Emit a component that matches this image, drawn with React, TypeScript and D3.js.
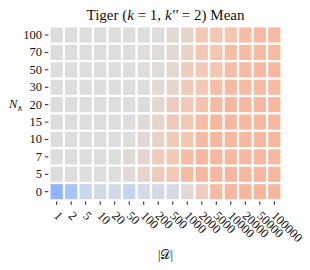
import React, { useRef, useEffect } from 'react';
import * as d3 from 'd3';

// |D| along x, N_wedge along y (top row first)
const datasetSizes = ['1', '2', '5', '10', '20', '50', '100', '200', '500', '1000', '2000', '5000', '10000', '20000', '50000', '100000'];
const nLabels = ['100', '70', '50', '30', '20', '15', '10', '7', '5', '0'];

// mean score per row, one value per |D|
const meanN100 = [0, 0, 0, 0, 0, 0, 0, 0.01, 0.04, 0.09, 0.2, 0.22, 0.23, 0.3, 0.31, 0.31];
const meanN70 = [0, 0, 0, 0, 0, 0, 0, 0.01, 0.05, 0.09, 0.22, 0.24, 0.28, 0.3, 0.31, 0.31];
const meanN50 = [0, 0, 0, 0, 0, 0, 0, 0.01, 0.06, 0.18, 0.2, 0.24, 0.29, 0.31, 0.32, 0.32];
const meanN30 = [0, 0, 0, 0, 0, 0, 0, 0.04, 0.08, 0.19, 0.22, 0.29, 0.31, 0.31, 0.31, 0.31];
const meanN20 = [0, 0, 0, 0, 0, 0, 0.01, 0.05, 0.18, 0.2, 0.26, 0.3, 0.32, 0.32, 0.32, 0.32];
const meanN15 = [0, 0, 0, 0, 0, 0, 0.04, 0.08, 0.19, 0.22, 0.29, 0.32, 0.32, 0.32, 0.32, 0.32];
const meanN10 = [0, 0, 0, 0, 0, 0, 0.05, 0.1, 0.2, 0.24, 0.3, 0.32, 0.32, 0.32, 0.32, 0.32];
const meanN7 = [0, 0, 0, 0, 0, 0.03, 0.08, 0.17, 0.21, 0.29, 0.32, 0.32, 0.32, 0.32, 0.32, 0.32];
const meanN5 = [0, 0, 0, 0, 0, 0.04, 0.1, 0.18, 0.22, 0.3, 0.33, 0.33, 0.33, 0.33, 0.33, 0.33];
const meanN0 = [-0.47, -0.34, -0.13, -0.06, -0.07, -0.17, -0.07, -0.07, -0.04, 0.03, 0.15, 0.3, 0.32, 0.32, 0.32, 0.32];

const meanRows = [meanN100, meanN70, meanN50, meanN30, meanN20, meanN15, meanN10, meanN7, meanN5, meanN0];

// coolwarm stops
const coolwarm = ['#3b4cc0', '#6282ea', '#8db0fe', '#b8d0f9', '#dddddd', '#f5c4ad', '#f49a7b', '#de604d', '#b40426'];

const FONT = "Liberation Serif, Times New Roman, serif";

const Heatmap: React.FC = () => {
  const svgRef = useRef<SVGSVGElement | null>(null);

  useEffect(() => {
    d3.select(svgRef.current).selectAll("*").remove();

    const width = 310;
    const height = 270;
    const left = 49.4, right = 281.6, top = 26.3, bottom = 200.4;
    const gap = 2.3;

    const svg = d3.select(svgRef.current)
      .attr("width", width)
      .attr("height", height)
      .style("font-family", FONT);

    const x = d3.scaleBand().domain(datasetSizes).range([left, right]);
    const y = d3.scaleBand().domain(nLabels).range([top, bottom]);
    const interp = d3.piecewise(d3.interpolateRgb, coolwarm);
    const color = (v: number) => interp((v + 1) / 2);

    const cells = meanRows.flatMap((row, i) =>
      row.map((v, j) => ({ n: nLabels[i], d: datasetSizes[j], v })));

    svg.append("g")
      .selectAll("rect")
      .data(cells)
      .enter()
      .append("rect")
      .attr("x", c => (x(c.d) as number) + gap / 2)
      .attr("y", c => (y(c.n) as number) + gap / 2)
      .attr("width", x.bandwidth() - gap)
      .attr("height", y.bandwidth() - gap)
      .attr("fill", c => color(c.v));

    // y axis
    const yAxis = svg.append("g")
      .attr("transform", `translate(${left - 1},0)`)
      .call(d3.axisLeft(y).tickSize(3.5).tickPadding(3));
    yAxis.attr("font-family", FONT).attr("font-size", 12.5);
    yAxis.select(".domain").remove();
    yAxis.selectAll("line").attr("stroke", "#222").attr("stroke-width", 1);
    yAxis.selectAll("text").attr("fill", "#111");

    // x axis
    const xAxis = svg.append("g")
      .attr("transform", `translate(0,${bottom + 1})`)
      .call(d3.axisBottom(x).tickSize(3.5).tickPadding(3));
    xAxis.attr("font-family", FONT).attr("font-size", 12.5);
    xAxis.select(".domain").remove();
    xAxis.selectAll("line").attr("stroke", "#222").attr("stroke-width", 1);
    xAxis.selectAll("text")
      .attr("fill", "#111")
      .attr("text-anchor", "start")
      .attr("dy", null)
      .attr("y", 0)
      .attr("transform", "translate(-3.5,15) rotate(45)");

    // title
    const title = svg.append("text")
      .attr("x", (left + right) / 2)
      .attr("y", 19.5)
      .attr("text-anchor", "middle")
      .attr("font-size", 15)
      .attr("fill", "#111");
    title.append("tspan").text("Tiger (");
    title.append("tspan").attr("font-style", "italic").text("k");
    title.append("tspan").text(" = 1, ");
    title.append("tspan").attr("font-style", "italic").text("k′′");
    title.append("tspan").text(" = 2) Mean");

    // y label
    const yLabel = svg.append("text")
      .attr("x", 9)
      .attr("y", 108)
      .attr("font-size", 12.5)
      .attr("fill", "#111");
    yLabel.append("tspan").attr("font-style", "italic").text("N");
    yLabel.append("tspan").attr("font-size", 8).attr("dy", 2.5).text("∧");

    // x label
    svg.append("text")
      .attr("x", (left + right) / 2)
      .attr("y", 259)
      .attr("text-anchor", "middle")
      .attr("font-size", 12.5)
      .attr("fill", "#111")
      .text("|𝒟|");
  }, []);

  return (
    <svg ref={svgRef} style={{ position: 'absolute', left: 0, top: 0 }}></svg>
  );
};

export default function App() {
  return <Heatmap />;
}
